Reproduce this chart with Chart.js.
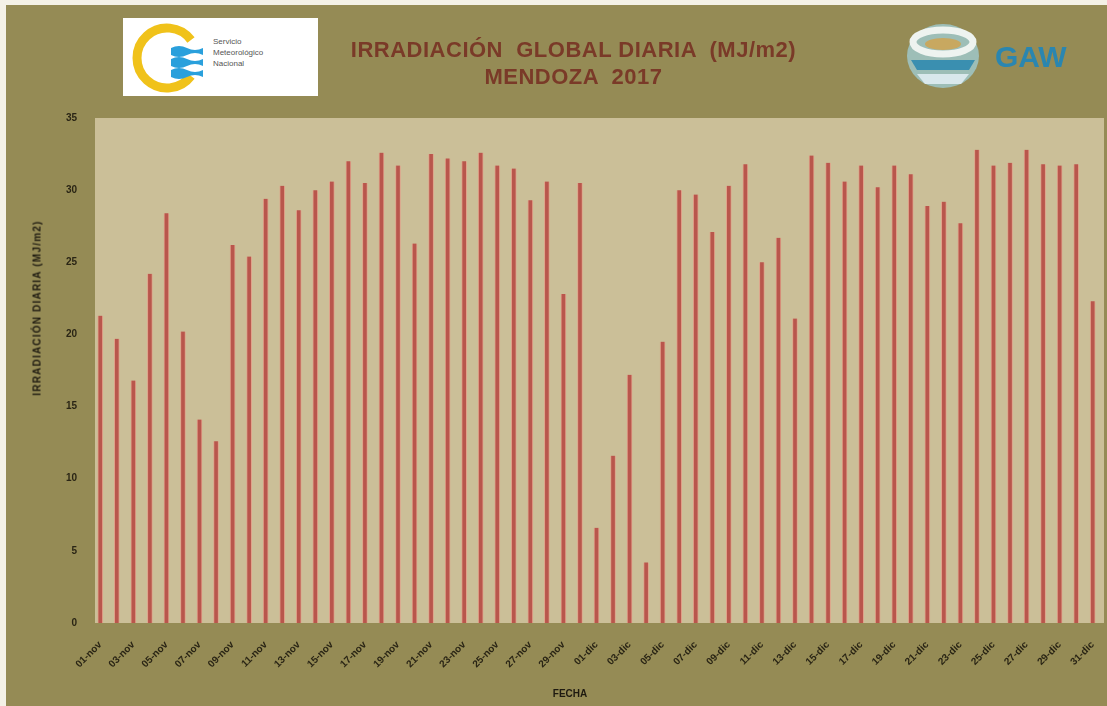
<!DOCTYPE html>
<html>
<head>
<meta charset="utf-8">
<script src="https://cdn.jsdelivr.net/npm/chart.js@4.4.1/dist/chart.umd.min.js"></script>
<style>
  html, body { margin: 0; padding: 0; background: #f4f1e6; }
  #frame { position: absolute; left: 6px; top: 5px; width: 1101px; height: 701px; background: #958b55; overflow: hidden; }
  #chart { position: absolute; left: 0; top: 0; }
  .title { position: absolute; left: 17px; width: 1101px; text-align: center; color: #7a3a28;
    font-family: "Liberation Sans", Arial, sans-serif; font-weight: bold; font-size: 22px; letter-spacing: 0.5px; white-space: pre; }
  .ytitle { position: absolute; left: 31px; top: 303px; transform: translate(-50%, -50%) rotate(-90deg);
    font-family: "Liberation Sans", Arial, sans-serif; font-weight: bold; font-size: 10px; letter-spacing: 1.2px; color: #1e1a10; white-space: nowrap; }
  .xtitle { position: absolute; left: 564px; top: 688px; transform: translate(-50%, -50%);
    font-family: "Liberation Sans", Arial, sans-serif; font-weight: bold; font-size: 10px; color: #1e1a10; }
  #smn { position: absolute; left: 117px; top: 13px; width: 195px; height: 78px; background: #fff; }
  #smn .txt { position: absolute; left: 90px; top: 18px; font: 8px "Liberation Sans", Arial, sans-serif; color: #555; line-height: 11px; }
  #gaw { position: absolute; left: 895px; top: 15px; }
  #gaw .txt { position: absolute; left: 94px; top: 20px; font: bold 30px "Liberation Sans", Arial, sans-serif; color: #2a86b0; }
</style>
</head>
<body>
<div id="frame">
  <canvas id="chart" width="1101" height="701"></canvas>
  <div id="smn">
    <svg width="90" height="78" style="position:absolute;left:0;top:0">
      <path d="M 68 22 A 30 30 0 1 0 68 58" fill="none" stroke="#f0c21a" stroke-width="9"/>
      <path d="M 48 30 q 8 -4 16 0 t 16 0 v 7 q -8 -4 -16 0 t -16 0 z" fill="#2aa0dc"/>
      <path d="M 48 41 q 8 -4 16 0 t 16 0 v 7 q -8 -4 -16 0 t -16 0 z" fill="#2aa0dc"/>
      <path d="M 48 52 q 8 -4 16 0 t 16 0 v 7 q -8 -4 -16 0 t -16 0 z" fill="#2aa0dc"/>
    </svg>
    <div class="txt">Servicio<br>Meteorológico<br>Nacional</div>
  </div>
  <div id="gaw">
    <svg width="85" height="72">
      <ellipse cx="42" cy="36" rx="36" ry="32" fill="#9fc7c9" opacity="0.85"/>
      <ellipse cx="42" cy="22" rx="30" ry="12" fill="none" stroke="#eef3f0" stroke-width="7"/>
      <ellipse cx="42" cy="24" rx="18" ry="6" fill="#c8a860"/>
      <path d="M 10 40 h 64 l -6 10 h -52 z" fill="#3a8fb0"/>
      <path d="M 16 54 h 52 l -8 10 h -36 z" fill="#d9e8ec"/>
    </svg>
    <div class="txt">GAW</div>
  </div>
  <div class="title" style="top:32px">IRRADIACIÓN  GLOBAL DIARIA  (MJ/m2)</div>
  <div class="title" style="top:59px">MENDOZA  2017</div>
  <div class="ytitle">IRRADIACIÓN DIARIA (MJ/m2)</div>
  <div class="xtitle">FECHA</div>
</div>
<script>
const novDays = ['01','02','03','04','05','06','07','08','09','10','11','12','13','14','15','16','17','18','19','20','21','22','23','24','25','26','27','28','29','30'];
const decDays = ['01','02','03','04','05','06','07','08','09','10','11','12','13','14','15','16','17','18','19','20','21','22','23','24','25','26','27','28','29','30','31'];
const fechas = [...novDays.map(d => d + '-nov'), ...decDays.map(d => d + '-dic')];

const irradNov = [21.3, 19.7, 16.8, 24.2, 28.4, 20.2, 14.1, 12.6, 26.2, 25.4,
                  29.4, 30.3, 28.6, 30.0, 30.6, 32.0, 30.5, 32.6, 31.7, 26.3,
                  32.5, 32.2, 32.0, 32.6, 31.7, 31.5, 29.3, 30.6, 22.8, 30.5];
const irradDic = [6.6, 11.6, 17.2, 4.2, 19.5, 30.0, 29.7, 27.1, 30.3, 31.8,
                  25.0, 26.7, 21.1, 32.4, 31.9, 30.6, 31.7, 30.2, 31.7, 31.1,
                  28.9, 29.2, 27.7, 32.8, 31.7, 31.9, 32.8, 31.8, 31.7, 31.8, 22.3];
const irradiacion = [...irradNov, ...irradDic];
const yTicks = [0, 5, 10, 15, 20, 25, 30, 35];

// beige plot panel sits a few px right of the category band
const plotBg = {
  id: 'plotBg',
  beforeDraw(chart) {
    const { ctx, chartArea: a } = chart;
    ctx.save();
    ctx.fillStyle = '#cbbf98';
    ctx.fillRect(a.left + 3, a.top, a.right - a.left, a.bottom - a.top);
    ctx.restore();
  }
};

new Chart(document.getElementById('chart'), {
  type: 'bar',
  data: {
    labels: fechas,
    datasets: [{
      data: irradiacion,
      backgroundColor: '#b9564c',
      borderColor: 'rgba(226,158,136,0.9)',
      borderWidth: { left: 1, right: 1, top: 0, bottom: 0 },
      borderSkipped: false,
      barThickness: 5
    }]
  },
  options: {
    responsive: false,
    animation: false,
    layout: { padding: { top: 113, right: 6, left: 0, bottom: 0 } },
    plugins: { legend: { display: false }, tooltip: { enabled: false } },
    scales: {
      x: {
        grid: { display: false },
        border: { display: false },
        afterFit: s => { s.height = 83; s.paddingRight = 0; s.paddingLeft = 0; },
        ticks: {
          autoSkip: false, maxRotation: 45, minRotation: 45, padding: 8,
          color: '#2a2515', font: { family: 'Liberation Sans', size: 10, weight: 'bold' },
          callback: (v, i) => i % 2 === 0 ? fechas[i] : ''
        }
      },
      y: {
        min: 0, max: 35,
        grid: { display: false },
        border: { display: false },
        afterFit: s => { s.width = 86; s.paddingTop = 0; s.paddingBottom = 0; },
        afterBuildTicks: s => { s.ticks = yTicks.map(v => ({ value: v })); },
        ticks: {
          padding: 7, color: '#2a2515',
          font: { family: 'Liberation Sans', size: 10, weight: 'bold' }
        }
      }
    }
  },
  plugins: [plotBg]
});
</script>
</body>
</html>
